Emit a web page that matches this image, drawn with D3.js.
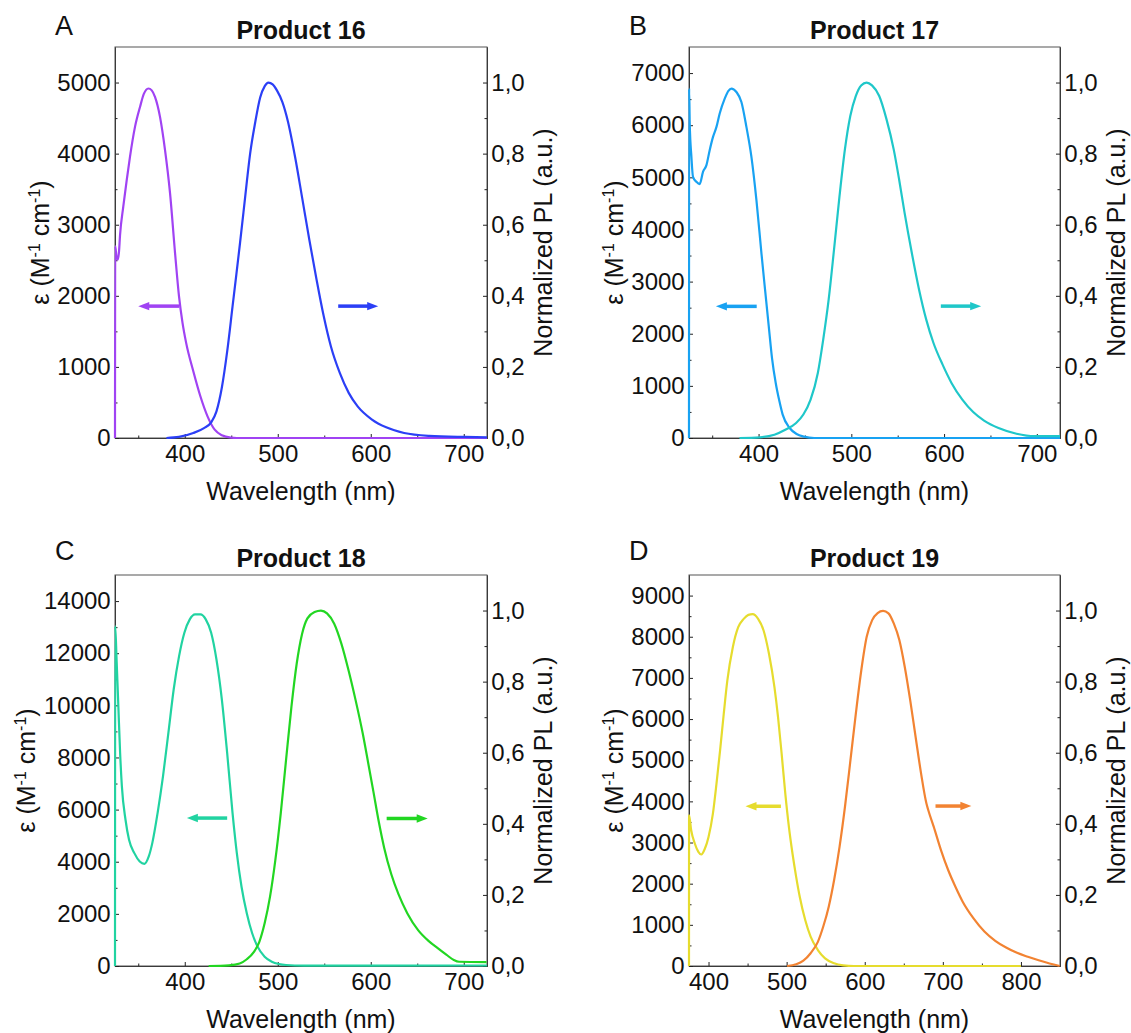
<!DOCTYPE html>
<html>
<head>
<meta charset="utf-8">
<script src="https://cdn.jsdelivr.net/npm/d3@7"></script>
<style>
  body { margin: 0; background: #fff; }
  svg text { font-family: "Liberation Sans", Arial, sans-serif; fill: #111; }
</style>
</head>
<body>
<svg id="chart" width="1131" height="1033"></svg>
<script>
// ---- data: [wavelength nm, value] ----
const absA = [[325,0],[325.2,2700],[326.7,2540],[328,2510],[329.3,2620],[330.4,2850],[333.9,3253],[337.6,3628],[341.1,3955],[346.5,4376],[351.9,4657],[356,4840],[360.9,4916],[364.5,4890],[368,4798],[373.4,4517],[378.8,4049],[384.2,3441],[389.6,2598],[393.8,1995],[397.6,1620],[401.5,1338],[409.2,939],[416.8,587],[424.5,305],[432.2,117],[439.9,38],[449.5,5],[456,0],[725,0]];
const plA = [[380.3,0],[393.8,0.003],[409.2,0.014],[420.7,0.028],[428.4,0.044],[434.1,0.075],[439.9,0.142],[445.7,0.245],[451.4,0.37],[455.5,0.46],[459.5,0.55],[463.1,0.634],[466.8,0.722],[470.3,0.8],[475.7,0.887],[481.1,0.958],[486,0.99],[490,1.0],[494.5,0.995],[499.1,0.978],[505,0.945],[511,0.89],[518.7,0.79],[526.3,0.675],[534,0.557],[541.7,0.446],[549.4,0.343],[557.1,0.258],[566.7,0.183],[576.3,0.127],[585.9,0.089],[601.3,0.052],[616.6,0.03],[635.9,0.014],[662.8,0.006],[701.2,0.003],[725,0.002]];

const absB = [[325,0],[325.1,6703],[325.8,6032],[327.6,5393],[329.3,5010],[333,4914],[336.5,4870],[340.1,5105],[343.8,5234],[347.3,5521],[350.9,5776],[354.6,5967],[358.1,6224],[363.5,6511],[367.5,6660],[370.7,6703],[376.1,6637],[381.5,6446],[386.9,5967],[392.3,5393],[397.7,4563],[403.1,3543],[407,2845],[411,2142],[414.5,1534],[418.5,1055],[422.5,703],[426,448],[433.5,192],[441,77],[449,26],[460,0],[725,0]];
const plB = [[379.4,0],[401.6,0.002],[417.1,0.009],[428.8,0.023],[440.5,0.042],[448.3,0.066],[456.1,0.108],[463.9,0.183],[469.7,0.277],[475.6,0.39],[481.4,0.531],[487.3,0.681],[493.1,0.812],[498.9,0.906],[504.8,0.962],[510.6,0.992],[516.5,1.0],[522.3,0.992],[530.1,0.962],[537.9,0.897],[545.7,0.812],[551.5,0.728],[557.4,0.634],[565.2,0.521],[573,0.418],[580.8,0.333],[588.5,0.268],[598.3,0.207],[608,0.155],[619.7,0.108],[631.4,0.073],[643.1,0.049],[658.7,0.028],[678.1,0.012],[697.6,0.005],[725,0.005]];

const absC = [[325,0],[325.2,13040],[326.7,11760],[328.6,9966],[330.5,8173],[332.4,6892],[336.3,5611],[340.1,4842],[345.8,4330],[351.6,4010],[356.7,3920],[361.3,4202],[365.1,4714],[370.8,5867],[376.6,7276],[382.4,8941],[388.1,10607],[393.9,11888],[399.6,12785],[405.4,13297],[411.1,13489],[416.9,13489],[422.6,13297],[428.4,12785],[434.1,11760],[439.9,10222],[445.6,8173],[451.4,5867],[456,4330],[461,3049],[466.7,2024],[472.5,1255],[478.3,743],[485.9,359],[493.6,167],[501.3,77],[508.9,38],[528,13],[600,13],[725,20]];
const plC = [[425.7,0],[447.6,0.002],[459.1,0.007],[466.7,0.019],[474.4,0.04],[480.2,0.068],[485.9,0.12],[491.7,0.195],[497.4,0.298],[503.2,0.429],[508.9,0.579],[514.7,0.729],[520.4,0.851],[526.2,0.935],[531.9,0.978],[539.6,0.996],[546.5,1.0],[553,0.992],[560.7,0.963],[568.4,0.907],[576.1,0.832],[583.7,0.748],[591.4,0.654],[597.2,0.572],[602.9,0.49],[608.7,0.405],[614.4,0.333],[622.1,0.258],[629.8,0.202],[639.4,0.148],[650.9,0.101],[662.4,0.07],[672,0.05],[681.6,0.031],[689.3,0.017],[695,0.012],[724.5,0.011]];

const absD = [[375,0],[375.1,3663],[377.8,3299],[382.4,2976],[387,2774],[390.7,2709],[395.4,2854],[400,3137],[405.6,3703],[410.2,4431],[414.8,5240],[419.5,6129],[424.1,6938],[431.1,7746],[438,8232],[445,8434],[451,8531],[456.5,8547],[463.5,8434],[470.5,8151],[477.4,7585],[484.4,6776],[489,6048],[493.6,5159],[498.3,4189],[502.9,3380],[507.5,2733],[512.2,2167],[516.8,1682],[523.8,1116],[530.7,712],[540,388],[549.2,186],[560.8,65],[572.4,16],[586.3,0],[800,0]];
const plD = [[500.6,0],[512.2,0.005],[521.4,0.015],[530.7,0.036],[540,0.068],[546.9,0.111],[553.9,0.167],[560.8,0.242],[567.8,0.336],[574.7,0.448],[581.7,0.579],[588.6,0.71],[595.6,0.832],[602.5,0.926],[609.5,0.973],[616.5,0.993],[623.4,0.999],[630.4,0.992],[637.3,0.963],[644.3,0.917],[651.2,0.842],[658.2,0.748],[665.1,0.645],[672.1,0.542],[679,0.457],[681.3,0.439],[688.3,0.392],[697.6,0.326],[706.8,0.27],[716.1,0.223],[725.4,0.181],[739.3,0.134],[753.2,0.097],[767.1,0.071],[781,0.052],[794.9,0.037],[808.8,0.026],[822.7,0.016],[836.6,0.007],[849.6,0]];

// arrows: [from nm, to nm, level on own axis]
const arrowAbsA = [394, 350, 1855], arrowPlA = [565, 608, 0.371];
const arrowAbsB = [398, 354, 2525], arrowPlB = [596.5, 640, 0.371];
const arrowAbsC = [445.6, 402.3, 5675], arrowPlC = [617.1, 661.2, 0.415];
const arrowAbsD = [492.7, 447.3, 3881], arrowPlD = [690.6, 736.5, 0.45];

// ticks
const ticksNm = [400, 500, 600, 700];
const minorNm = [350, 450, 550, 650];
const ticksNmD = [400, 500, 600, 700, 800];
const minorNmD = [450, 550, 650, 750];
const ticksPL = [0, 0.2, 0.4, 0.6, 0.8, 1.0];
const minorPL = [0.1, 0.3, 0.5, 0.7, 0.9];
const ticksEpsA = [0, 1000, 2000, 3000, 4000, 5000];
const minorEpsA = [500, 1500, 2500, 3500, 4500];
const ticksEpsB = [0, 1000, 2000, 3000, 4000, 5000, 6000, 7000];
const minorEpsB = [500, 1500, 2500, 3500, 4500, 5500, 6500];
const ticksEpsC = [0, 2000, 4000, 6000, 8000, 10000, 12000, 14000];
const minorEpsC = [1000, 3000, 5000, 7000, 9000, 11000, 13000];
const ticksEpsD = [0, 1000, 2000, 3000, 4000, 5000, 6000, 7000, 8000, 9000];
const minorEpsD = [500, 1500, 2500, 3500, 4500, 5500, 6500, 7500, 8500];

const svg = d3.select("#chart");

const panels = [
  { letter: "A", title: "Product 16", x: 115, y: 47, w: 372, h: 391, xDomain: [325, 725], yMax: 5500,
    xTicks: ticksNm, xMinor: minorNm, yTicks: ticksEpsA, yMinor: minorEpsA,
    abs: absA, pl: plA, absColor: "#a043f3", plColor: "#2b3ff6", absArrow: arrowAbsA, plArrow: arrowPlA, letterPos: [55, 35] },
  { letter: "B", title: "Product 17", x: 689, y: 47, w: 371, h: 391, xDomain: [325, 725], yMax: 7500,
    xTicks: ticksNm, xMinor: minorNm, yTicks: ticksEpsB, yMinor: minorEpsB,
    abs: absB, pl: plB, absColor: "#18a2f2", plColor: "#1fc7c9", absArrow: arrowAbsB, plArrow: arrowPlB, letterPos: [629, 35] },
  { letter: "C", title: "Product 18", x: 115, y: 575, w: 372, h: 391, xDomain: [325, 725], yMax: 15000,
    xTicks: ticksNm, xMinor: minorNm, yTicks: ticksEpsC, yMinor: minorEpsC,
    abs: absC, pl: plC, absColor: "#21d3a1", plColor: "#22d622", absArrow: arrowAbsC, plArrow: arrowPlC, letterPos: [55, 560] },
  { letter: "D", title: "Product 19", x: 689, y: 575, w: 371, h: 391, xDomain: [375, 850], yMax: 9500,
    xTicks: ticksNmD, xMinor: minorNmD, yTicks: ticksEpsD, yMinor: minorEpsD,
    abs: absD, pl: plD, absColor: "#e6dc2e", plColor: "#f28332", absArrow: arrowAbsD, plArrow: arrowPlD, letterPos: [629, 560] }
];

const commaFmt = d => d3.format(".1f")(d).replace(".", ",");

function styleAxis(sel) {
  sel.attr("font-size", null).attr("font-family", null);
  sel.select(".domain").attr("stroke", "#3a3a3a").attr("stroke-width", 1);
  sel.selectAll(".tick line").attr("stroke", "#222").attr("stroke-width", 1);
  sel.selectAll(".tick text").style("font-size", "24px").attr("fill", "#111");
}

function drawArrow(g, x1, x2, y, color) {
  const dir = x2 > x1 ? 1 : -1;
  const head = 11;
  g.append("line")
    .attr("x1", x1).attr("x2", x2 - dir * head + dir * 1).attr("y1", y).attr("y2", y)
    .attr("stroke", color).attr("stroke-width", 3.5);
  g.append("path")
    .attr("d", `M${x2},${y} L${x2 - dir * head},${y - 4.2} L${x2 - dir * head},${y + 4.2} Z`)
    .attr("fill", color);
}

panels.forEach((p, i) => {
  const g = svg.append("g").attr("transform", `translate(${p.x},${p.y})`);
  const x = d3.scaleLinear().domain(p.xDomain).range([0, p.w]);
  const yL = d3.scaleLinear().domain([0, p.yMax]).range([p.h, 0]);
  const yR = d3.scaleLinear().domain([0, 1.1]).range([p.h, 0]);

  // frame
  g.append("rect").attr("width", p.w).attr("height", p.h)
    .attr("fill", "none").attr("stroke", "#555").attr("stroke-width", 1);

  // bottom axis
  g.append("g").attr("transform", `translate(0,${p.h})`)
    .call(d3.axisBottom(x).tickValues(p.xTicks).tickSizeInner(-4).tickSizeOuter(0).tickPadding(6.5).tickFormat(d3.format("d")))
    .call(styleAxis);
  g.append("g").attr("transform", `translate(0,${p.h})`)
    .call(d3.axisBottom(x).tickValues(p.xMinor).tickSizeInner(-2.5).tickSizeOuter(0).tickFormat(""))
    .call(styleAxis);

  // left axis
  const left = g.append("g")
    .call(d3.axisLeft(yL).tickValues(p.yTicks).tickSizeInner(-4).tickSizeOuter(0).tickPadding(4.3).tickFormat(d3.format("d")))
    .call(styleAxis);
  g.append("g")
    .call(d3.axisLeft(yL).tickValues(p.yMinor).tickSizeInner(-2.5).tickSizeOuter(0).tickFormat(""))
    .call(styleAxis);

  // right axis
  g.append("g").attr("transform", `translate(${p.w},0)`)
    .call(d3.axisRight(yR).tickValues(ticksPL).tickSizeInner(-4).tickSizeOuter(0).tickPadding(4.3).tickFormat(commaFmt))
    .call(styleAxis);
  g.append("g").attr("transform", `translate(${p.w},0)`)
    .call(d3.axisRight(yR).tickValues(minorPL).tickSizeInner(-2.5).tickSizeOuter(0).tickFormat(""))
    .call(styleAxis);

  // clip
  const clipId = "clip" + i;
  g.append("clipPath").attr("id", clipId).append("rect")
    .attr("x", -2).attr("y", -2).attr("width", p.w + 4).attr("height", p.h + 4);

  const lineAbs = d3.line().x(d => x(d[0])).y(d => yL(d[1])).curve(d3.curveMonotoneX);
  const linePl = d3.line().x(d => x(d[0])).y(d => yR(d[1])).curve(d3.curveMonotoneX);

  const curves = g.append("g").attr("clip-path", `url(#${clipId})`);
  curves.append("path").datum(p.abs).attr("d", lineAbs)
    .attr("fill", "none").attr("stroke", p.absColor).attr("stroke-width", 2.2).attr("stroke-linejoin", "round");
  curves.append("path").datum(p.pl).attr("d", linePl)
    .attr("fill", "none").attr("stroke", p.plColor).attr("stroke-width", 2.2).attr("stroke-linejoin", "round");

  // arrows
  drawArrow(g, x(p.absArrow[0]), x(p.absArrow[1]), yL(p.absArrow[2]), p.absColor);
  drawArrow(g, x(p.plArrow[0]), x(p.plArrow[1]), yR(p.plArrow[2]), p.plColor);

  // title
  g.append("text").attr("x", p.w / 2).attr("y", -8).attr("text-anchor", "middle")
    .style("font-size", "25px").style("font-weight", "bold").text(p.title);

  // x label
  g.append("text").attr("x", p.w / 2).attr("y", p.h + 62).attr("text-anchor", "middle")
    .style("font-size", "25px").text("Wavelength (nm)");

  // left label, offset from widest tick label
  let maxW = 0;
  left.selectAll(".tick text").each(function () { maxW = Math.max(maxW, this.getBBox().width); });
  const ly = g.append("text")
    .attr("transform", `translate(${-(maxW + 4.3 + 8.5)},${p.h / 2}) rotate(-90)`)
    .attr("text-anchor", "middle").style("font-size", "25px");
  ly.append("tspan").text("ε (M");
  ly.append("tspan").attr("dy", -9).style("font-size", "16px").text("-1");
  ly.append("tspan").attr("dy", 9).text(" cm");
  ly.append("tspan").attr("dy", -9).style("font-size", "16px").text("-1");
  ly.append("tspan").attr("dy", 9).text(")");

  // right label
  g.append("text")
    .attr("transform", `translate(${p.w + 65},${p.h / 2}) rotate(-90)`)
    .attr("text-anchor", "middle").style("font-size", "25px").text("Normalized PL (a.u.)");

  // panel letter
  svg.append("text").attr("x", p.letterPos[0]).attr("y", p.letterPos[1])
    .style("font-size", "27px").text(p.letter);
});
</script>
</body>
</html>
